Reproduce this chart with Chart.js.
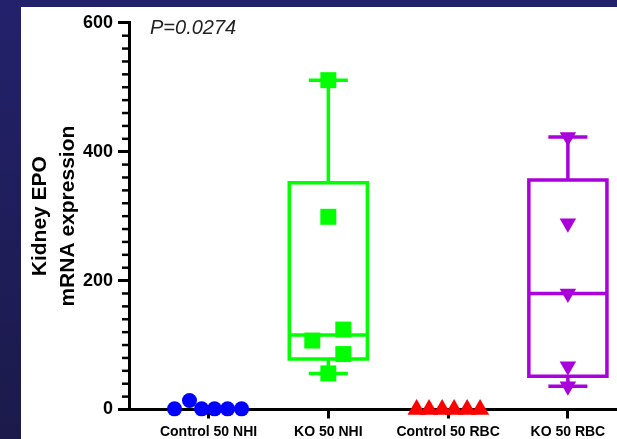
<!DOCTYPE html>
<html>
<head>
<meta charset="utf-8">
<script src="https://cdn.jsdelivr.net/npm/chart.js@4.4.0/dist/chart.umd.min.js"></script>
<style>
  html, body { margin: 0; padding: 0; }
  body {
    width: 617px; height: 439px; overflow: hidden; position: relative;
    background: linear-gradient(#23216b, #1b1a4a);
  }
  #panel { position: absolute; left: 21px; top: 7px; width: 596px; height: 432px; background: #fff; }
</style>
</head>
<body>
<div id="panel"><canvas id="myChart" width="596" height="432"></canvas></div>
<script>
// ---- data ----
const categories = ['Control 50 NHI', 'KO 50 NHI', 'Control 50 RBC', 'KO 50 RBC'];

const controlNhi = [1, 14, 1, 1, 1, 1];
const koNhi = [511, 299, 107, 124, 86, 56];
const controlRbc = [0, 0, 0, 0, 0, 0];
const koRbc = [423, 289, 180, 67, 36];

// sideways scatter of the dots, in category widths
const controlNhiJitter = [-0.284, -0.159, -0.058, 0.05, 0.159, 0.276];
const koNhiJitter = [0, 0, -0.134, 0.125, 0.125, 0];
const controlRbcJitter = [-0.263, -0.159, -0.05, 0.05, 0.159, 0.267];
const koRbcJitter = [0, 0, 0, 0, 0];

const yTicks = [0, 200, 400, 600];
const yMinorStep = 20;
const pValue = 'P=0.0274';

const FONT = '"Liberation Sans", Arial, sans-serif';

// quartiles like Prism (n+1 method)
function quantile(values, p) {
  let s = values.slice().sort((a, b) => a - b);
  let pos = p * (s.length + 1) - 1;
  if (pos <= 0) return s[0];
  if (pos >= s.length - 1) return s[s.length - 1];
  let lo = Math.floor(pos);
  return s[lo] + (pos - lo) * (s[lo + 1] - s[lo]);
}

function boxDatasets(values, xc, color) {
  let q1 = quantile(values, 0.25);
  let med = quantile(values, 0.5);
  let q3 = quantile(values, 0.75);
  let lo = Math.min(...values);
  let hi = Math.max(...values);
  let w = 0.326, c = 0.163;
  let common = {
    showLine: true, pointRadius: 0, pointHoverRadius: 0, borderColor: color, borderWidth: 3.5,
    borderJoinStyle: 'miter', borderCapStyle: 'butt', fill: false, tension: 0, order: 1, clip: false
  };
  return [
    { ...common, data: [{x: xc - w, y: q1}, {x: xc - w, y: q3}, {x: xc + w, y: q3}, {x: xc + w, y: q1},
                        {x: xc - w, y: q1}, {x: xc - w, y: med}, {x: xc + w, y: med}] },
    { ...common, data: [{x: xc - c, y: hi}, {x: xc + c, y: hi}, {x: xc, y: hi}, {x: xc, y: q3}] },
    { ...common, data: [{x: xc, y: q1}, {x: xc, y: lo}, {x: xc - c, y: lo}, {x: xc + c, y: lo}] }
  ];
}

function pointDataset(values, jitter, xc, style, color, radius, rotation) {
  return {
    data: values.map((v, i) => ({x: xc + jitter[i], y: v})),
    pointStyle: style, pointRadius: radius, pointHoverRadius: radius, pointRotation: rotation || 0,
    backgroundColor: color, borderColor: color, borderWidth: 0, showLine: false, order: 0, clip: false
  };
}

const BLUE = 'rgb(0, 0, 255)';
const GREEN = 'rgb(0, 255, 0)';
const RED = 'rgb(255, 0, 0)';
const PURPLE = 'rgb(170, 0, 220)';

const datasets = [
  ...boxDatasets(koNhi, 1, GREEN),
  ...boxDatasets(koRbc, 3, PURPLE),
  pointDataset(controlNhi, controlNhiJitter, 0, 'circle', BLUE, 7.5),
  pointDataset(koNhi, koNhiJitter, 1, 'rect', GREEN, 11.3),
  pointDataset(controlRbc, controlRbcJitter, 2, 'triangle', RED, 10.5),
  pointDataset(koRbc, koRbcJitter, 3, 'triangle', PURPLE, 9.5, 180)
];

// minor y ticks and the p value
const extras = {
  id: 'extras',
  afterDraw(chart) {
    const ctx = chart.ctx;
    const y = chart.scales.y;
    const left = chart.chartArea.left;
    ctx.save();
    ctx.strokeStyle = '#000';
    ctx.lineWidth = 2.5;
    for (let v = y.min + yMinorStep; v < y.max; v += yMinorStep) {
      if (yTicks.includes(v)) continue;
      const py = y.getPixelForValue(v);
      ctx.beginPath();
      ctx.moveTo(left - 7, py);
      ctx.lineTo(left, py);
      ctx.stroke();
    }
    ctx.font = 'italic 20px ' + FONT;
    ctx.fillStyle = '#222';
    ctx.textBaseline = 'middle';
    ctx.fillText(pValue, left + 21, chart.chartArea.top + 6);
    ctx.restore();
  }
};

new Chart(document.getElementById('myChart'), {
  type: 'scatter',
  data: { datasets: datasets },
  plugins: [extras],
  options: {
    responsive: false,
    animation: false,
    layout: { autoPadding: false, padding: { top: 15, left: 0, right: 0, bottom: 0 } },
    plugins: { legend: { display: false }, tooltip: { enabled: false } },
    scales: {
      x: {
        type: 'linear', min: -0.664, max: 3.41,
        afterBuildTicks: s => { s.ticks = categories.map((c, i) => ({value: i})); },
        afterFit: s => { s.height = 29.5; s.paddingLeft = 0; s.paddingRight = 0; },
        ticks: {
          callback: v => categories[v], color: '#000', padding: 5,
          font: { family: FONT, size: 14, weight: 'bold' }, maxRotation: 0, autoSkip: false
        },
        grid: { drawOnChartArea: false, tickLength: 9, tickWidth: 3, tickColor: '#000' },
        border: { color: '#000', width: 3 }
      },
      y: {
        min: 0, max: 600,
        afterBuildTicks: s => { s.ticks = yTicks.map(v => ({value: v})); },
        afterFit: s => { s.width = 108; },
        ticks: { color: '#000', padding: 5, font: { family: FONT, size: 18, weight: 'bold' } },
        grid: { drawOnChartArea: false, tickLength: 11, tickWidth: 3, tickColor: '#000' },
        border: { color: '#000', width: 3 },
        title: {
          display: true, text: ['Kidney EPO', 'mRNA expression'], color: '#000',
          font: { family: FONT, size: 21, weight: 'bold', lineHeight: 1.33 },
          padding: { top: 5, bottom: 0 }
        }
      }
    }
  }
});
</script>
</body>
</html>
